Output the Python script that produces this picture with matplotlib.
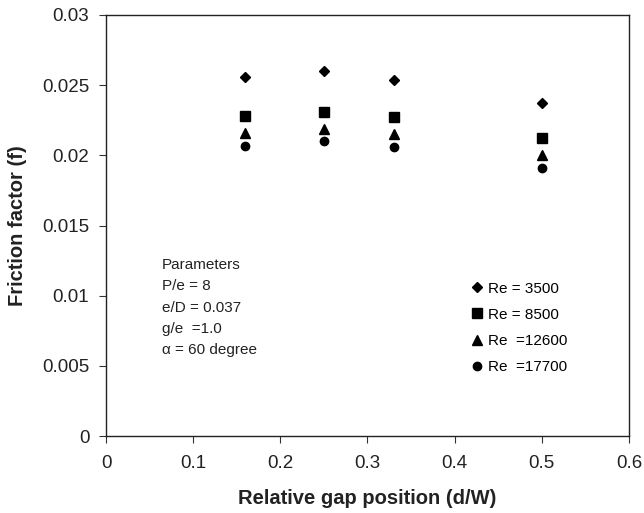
import matplotlib
matplotlib.use("Agg")
import matplotlib.pyplot as plt

plt.rcParams['font.family'] = ['Liberation Sans', 'DejaVu Sans']

# relative gap position d/W
gap = [0.16, 0.25, 0.33, 0.5]

# friction factor for each Reynolds number
f_3500 = [0.0256, 0.0260, 0.0254, 0.0237]
f_8500 = [0.0228, 0.0231, 0.0227, 0.0212]
f_12600 = [0.0216, 0.0219, 0.0215, 0.0200]
f_17700 = [0.0207, 0.0210, 0.0206, 0.0191]

labels = ["Re = 3500", "Re = 8500", "Re  =12600", "Re  =17700"]
markers = ["D", "s", "^", "o"]
sizes = [5.5, 6.5, 7, 6]

params = ["Parameters", "P/e = 8", "e/D = 0.037", "g/e  =1.0", "\u03b1 = 60 degree"]

fig = plt.figure(figsize=(6.44, 5.13), dpi=100)
ax = fig.add_axes([0.1646, 0.150, 0.8121, 0.8208])

for ys, lab, m, s in zip([f_3500, f_8500, f_12600, f_17700], labels, markers, sizes):
    ax.plot(gap, ys, linestyle="none", marker=m, color="black", markersize=s, label=lab)

ax.set_xlim(0, 0.6)
ax.set_ylim(0, 0.03)
ax.set_xticks([0, 0.1, 0.2, 0.3, 0.4, 0.5, 0.6])
ax.set_xticklabels(["0", "0.1", "0.2", "0.3", "0.4", "0.5", "0.6"])
ax.set_yticks([0, 0.005, 0.01, 0.015, 0.02, 0.025, 0.03])
ax.set_yticklabels(["0", "0.005", "0.01", "0.015", "0.02", "0.025", "0.03"])
ax.tick_params(direction="out", length=5, labelsize=13.5, color="#333333", labelcolor="#222222")
ax.tick_params(axis="x", pad=9)
ax.tick_params(axis="y", pad=7)
for sp in ax.spines.values():
    sp.set_color("#222222")
    sp.set_linewidth(1.0)

ax.set_xlabel("Relative gap position (d/W)", fontsize=14.5, fontweight="bold", labelpad=12, color="#222222")
ax.set_ylabel("Friction factor (f)", fontsize=14.5, fontweight="bold", labelpad=11, color="#222222")

# parameter block, one line at a time
for i, line in enumerate(params):
    ax.text(0.0639, 0.01191 - i * 0.001524, line, fontsize=11, va="baseline", ha="left",
            color="#222222")

ax.legend(loc="upper left", bbox_to_anchor=(0.694, 0.367), frameon=False, fontsize=11,
          handletextpad=0.24, handlelength=1.0, labelspacing=0.8, borderpad=0,
          borderaxespad=0)

fig.savefig("out.png", dpi=100)
